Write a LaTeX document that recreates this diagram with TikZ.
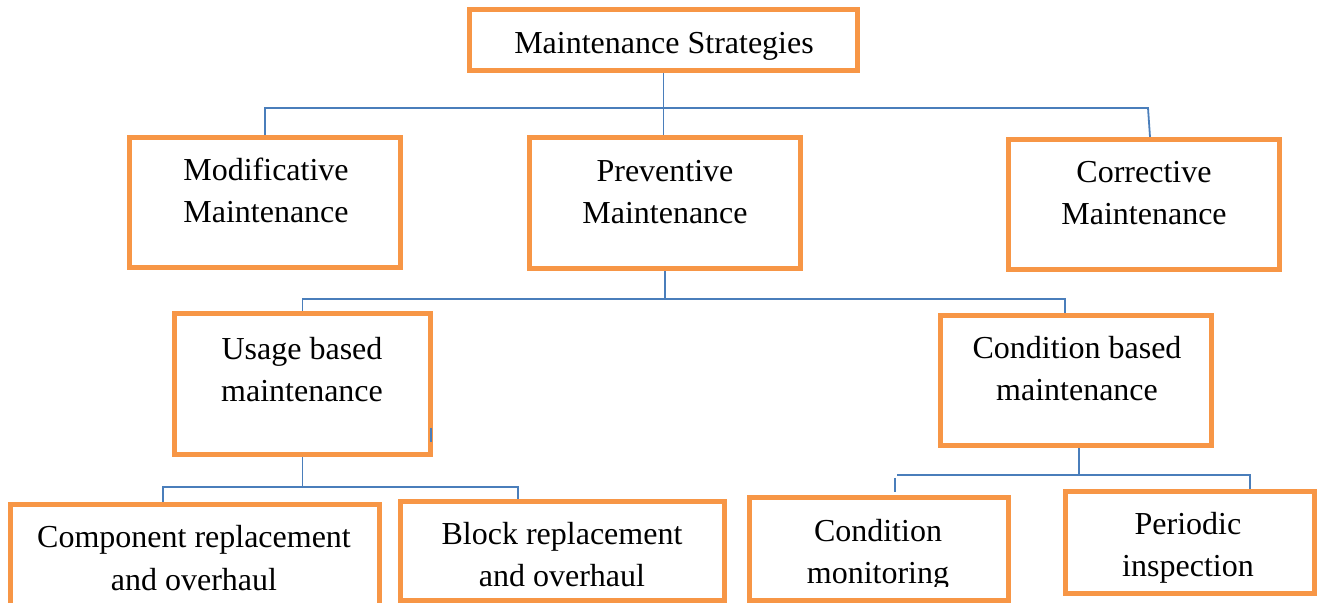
\documentclass[tikz,border=0pt]{standalone}
\usepackage{fontspec}
\setmainfont{Liberation Serif}
\usetikzlibrary{backgrounds}
\definecolor{boxorange}{RGB}{247,150,70}
\definecolor{linkblue}{RGB}{74,126,187}
\begin{document}
\begin{tikzpicture}[x=0.5pt,y=-0.5pt,
  box/.style 2 args={draw=boxorange, line width=2.5pt, fill=white, inner sep=0pt,
    minimum width=#1*0.5pt, minimum height=#2*0.5pt},
  % base anchor of a two-line label sits on its last line
  txt/.style={align=center, inner sep=0pt, anchor=base, font=\fontsize{16}{21}\selectfont},
  link/.style={draw=linkblue, line width=0.9pt}]
\useasboundingbox (0,0) rectangle (1317,603);
\clip (0,0) rectangle (1317,603);

% boxes
\node[box={388}{61}]  (root)  at (663.5,40)   {};
\node[box={271}{130}] (mod)   at (265,202.5)  {};
\node[box={271}{131}] (prev)  at (665,203)    {};
\node[box={271}{130}] (corr)  at (1144,204.5) {};
\node[box={256}{141}] (usage) at (302.5,384)  {};
\node[box={271}{130}] (cbm)   at (1076,380.5) {};
\node[box={369}{143}] (comp)  at (195,576)    {};
\node[box={324}{99}]  (block) at (562.5,551)  {};
\node[box={259}{103}] (cmon)  at (879,549)    {};
\node[box={249}{102}] (per)   at (1190,542.5) {};

% labels
\node[txt] (troot)  at (664,54)   {Maintenance Strategies};
\node[txt] (tmod)   at (266,223)  {Modificative\\Maintenance};
\node[txt] (tprev)  at (665,224)  {Preventive\\Maintenance};
\node[txt] (tcorr)  at (1144,225) {Corrective\\Maintenance};
\node[txt] (tusage) at (302,402)  {Usage based\\maintenance};
\node[txt] (tcbm)   at (1077,401) {Condition based\\maintenance};
\node[txt] (tcomp)  at (194,590)  {Component replacement\\and overhaul};
\node[txt] (tblock) at (562,587)  {Block replacement\\and overhaul};
\begin{scope}
  \clip (740,480) rectangle (1020,587);
  \node[txt] (tcmon) at (878,584) {Condition\\monitoring};
\end{scope}
\node[txt] (tper)   at (1188,577) {Periodic\\inspection};

% tree connectors
\coordinate (h1) at (0,108);
\coordinate (h2) at (0,299);
\coordinate (h3) at (0,487);
\coordinate (h4) at (0,475);
\coordinate (xc1) at (1148,0);
\coordinate (xc2) at (1150,0);
\coordinate (xcbm) at (1065,0);
\coordinate (xcomp) at (163,0);
\coordinate (xblock) at (518,0);
\coordinate (xcb) at (1079,0);
\coordinate (xl) at (897,0);
\coordinate (xper) at (1250,0);
\coordinate (k1) at (895,478);
\coordinate (k2) at (895,492);
\begin{scope}[on background layer]
  \draw[link] (root.south) -- (root.south |- prev.north);
  \draw[link] (mod.north) -- (mod.north |- h1) -- (xc1 |- h1) -- (xc2 |- corr.north);
  \draw[link] (prev.south) -- (prev.south |- h2);
  \draw[link] (usage.north) -- (usage.north |- h2) -- (xcbm |- h2) -- (xcbm |- cbm.north);
  \draw[link] (usage.south) -- (usage.south |- h3);
  \draw[link] (xcomp |- comp.north) -- (xcomp |- h3) -- (xblock |- h3) -- (xblock |- block.north);
  \draw[link] (xcb |- cbm.south) -- (xcb |- h4);
  \draw[link] (xl |- h4) -- (xper |- h4) -- (xper |- per.north);
  \draw[link] (k1) -- (k2);
\end{scope}

% stray mark on the usage box edge
\coordinate (m1) at (431,428);
\coordinate (m2) at (431,442);
\draw[link] (m1) -- (m2);
\end{tikzpicture}
\end{document}
